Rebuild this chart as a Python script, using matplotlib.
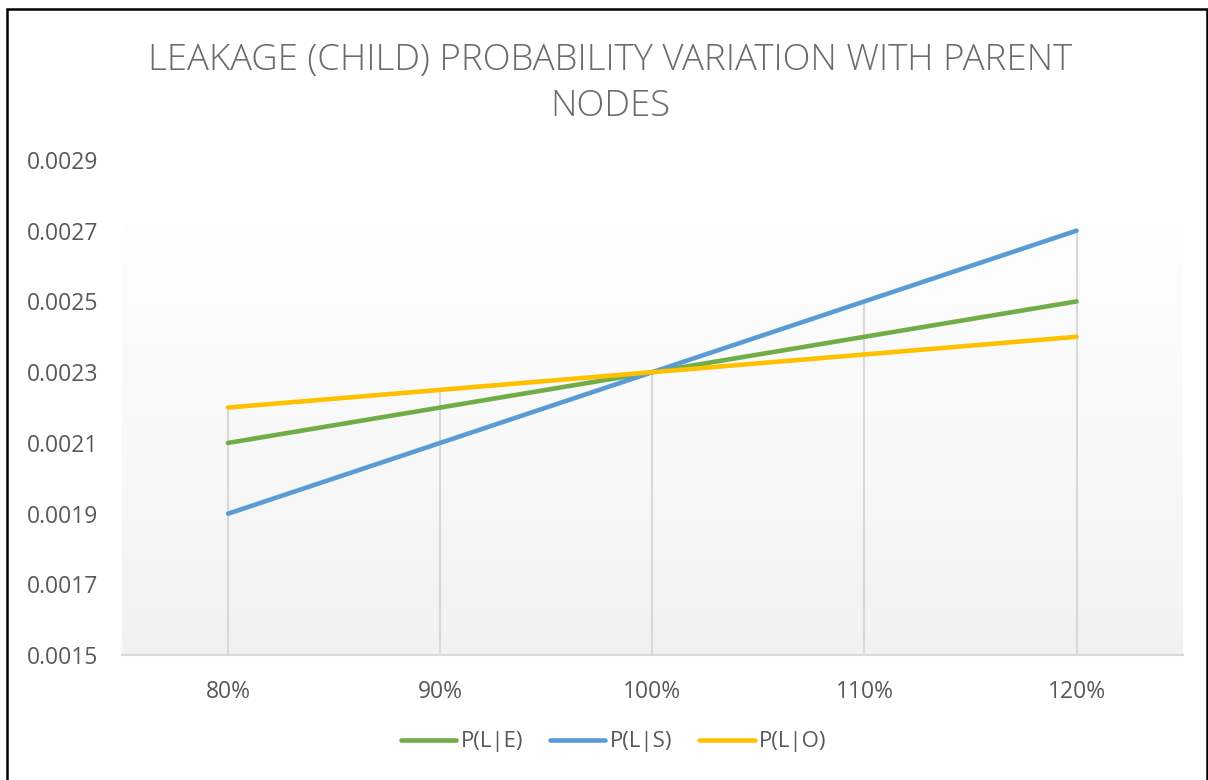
import numpy as np
import matplotlib.pyplot as plt
from matplotlib.patches import Rectangle

categories = ['80%', '90%', '100%', '110%', '120%']
p_le = [0.0021, 0.0022, 0.0023, 0.0024, 0.0025]
p_ls = [0.0019, 0.0021, 0.0023, 0.0025, 0.0027]
p_lo = [0.0022, 0.00225, 0.0023, 0.00235, 0.0024]
series = [('P(L|E)', p_le, '#70AD47'), ('P(L|S)', p_ls, '#5B9BD5'), ('P(L|O)', p_lo, '#FFC000')]
yticks = [0.0015, 0.0017, 0.0019, 0.0021, 0.0023, 0.0025, 0.0027, 0.0029]

txt = '#595959'
plt.rcParams['font.family'] = ['Open Sans', 'DejaVu Sans']
fig = plt.figure(figsize=(12.08, 7.8), dpi=100)
ax = fig.add_axes([0.101, 0.160, 0.878, 0.635])
x = np.arange(len(categories))
ymin, ymax = yticks[0], yticks[-1]

# plot area gradient (Excel style), white at top to light gray at bottom
grad = np.linspace(1, 0, 256).reshape(-1, 1) ** 0.8
ax.imshow(grad, cmap=plt.matplotlib.colors.LinearSegmentedColormap.from_list('g', ['#f1f1f1', '#fefefe']),
          aspect='auto', extent=(0, 1, 0, 0.87), transform=ax.transAxes, zorder=0)

# drop lines from highest point down to the axis
tops = np.max([s[1] for s in series], axis=0)
ax.vlines(x, ymin, tops, color='#d9d9d9', lw=1.5, zorder=1)

for name, vals, col in series:
    ax.plot(x, vals, color=col, lw=3.3, label=name, solid_capstyle='round', zorder=3)

ax.set_xlim(-0.5, len(categories) - 0.5)
ax.set_ylim(ymin, ymax)
ax.set_xticks(x, categories)
ax.set_yticks(yticks, [f'{v:.4f}' for v in yticks])
ax.tick_params(length=0, labelsize=16.5, labelcolor=txt)
ax.tick_params(axis='x', pad=18)
ax.tick_params(axis='y', pad=17)
for s in ['left', 'right', 'top']:
    ax.spines[s].set_visible(False)
ax.spines['bottom'].set_color('#d9d9d9')
ax.spines['bottom'].set_linewidth(1.5)
ax.set_facecolor('white')

fig.text(0.505, 0.893, 'LEAKAGE (CHILD) PROBABILITY VARIATION WITH PARENT\nNODES',
         ha='center', va='center', fontsize=26.3, color='#6b6b6b', linespacing=1.3,
         fontweight='light')

ax.legend(loc='center', bbox_to_anchor=(0.508, 0.049), bbox_transform=fig.transFigure, ncol=3,
          frameon=False, fontsize=16, labelcolor=txt, handlelength=2.5, handletextpad=0.2,
          columnspacing=1.2)

fig.patches.append(Rectangle((0.006, -0.01), 0.993, 0.999, transform=fig.transFigure,
                             fill=False, edgecolor='black', lw=1.8))
fig.savefig('out.png', dpi=100)
